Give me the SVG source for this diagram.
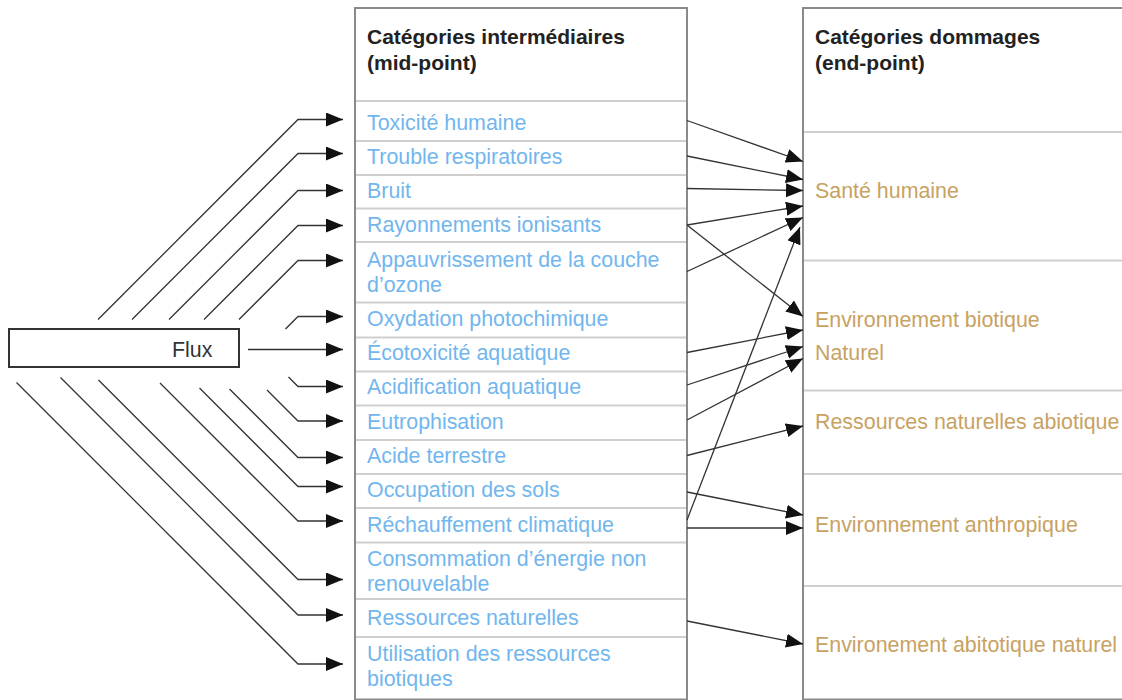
<svg xmlns="http://www.w3.org/2000/svg" width="1122" height="700" viewBox="0 0 1122 700">
<style>
text{font-family:"Liberation Sans",Arial,Helvetica,sans-serif;font-size:21.4px}
.h{font-weight:bold;fill:#222;font-size:21px}
.mid{fill:#72B6EE}
.end{fill:#C8A262}
.box{fill:#fff;stroke:#8a8a8a;stroke-width:2}
.sep{stroke:#cfcfcf;stroke-width:2;fill:none}
.c{fill:none;stroke:#333;stroke-width:1.3;marker-end:url(#ah)}
.flux{fill:#fff;stroke:#333;stroke-width:2}
</style>
<defs>
<marker id="ah" markerUnits="userSpaceOnUse" markerWidth="18" markerHeight="15" refX="17" refY="7" orient="auto">
<path d="M0,0 L17,7 L0,14 z" fill="#111"/>
</marker>
</defs>
<rect width="1122" height="700" fill="#fff"/>

<g id="mid-column">
<rect class="box" x="355" y="8" width="332" height="691.5"/>
<path class="sep" d="M356,101H686M356,141H686M356,175H686M356,208.5H686M356,242H686M356,302.5H686M356,337.5H686M356,371.5H686M356,405.5H686M356,440H686M356,474H686M356,508H686M356,542.5H686M356,599H686M356,637H686"/>
<text class="h" x="367" y="44">Catégories intermédiaires</text>
<text class="h" x="367" y="70">(mid-point)</text>
</g>
<g id="n-toxicite"><text class="mid" x="367" y="130">Toxicité humaine</text></g>
<g id="n-trouble"><text class="mid" x="367" y="164">Trouble respiratoires</text></g>
<g id="n-bruit"><text class="mid" x="367" y="198">Bruit</text></g>
<g id="n-rayonnements"><text class="mid" x="367" y="232">Rayonnements ionisants</text></g>
<g id="n-appauvrissement"><text class="mid" x="367" y="267">Appauvrissement de la couche</text><text class="mid" x="367" y="292">d’ozone</text></g>
<g id="n-oxydation"><text class="mid" x="367" y="326">Oxydation photochimique</text></g>
<g id="n-ecotoxicite"><text class="mid" x="367" y="360">Écotoxicité aquatique</text></g>
<g id="n-acidification"><text class="mid" x="367" y="394">Acidification aquatique</text></g>
<g id="n-eutrophisation"><text class="mid" x="367" y="429">Eutrophisation</text></g>
<g id="n-acide"><text class="mid" x="367" y="463">Acide terrestre</text></g>
<g id="n-occupation"><text class="mid" x="367" y="497">Occupation des sols</text></g>
<g id="n-rechauffement"><text class="mid" x="367" y="532">Réchauffement climatique</text></g>
<g id="n-consommation"><text class="mid" x="367" y="566">Consommation d’énergie non</text><text class="mid" x="367" y="591">renouvelable</text></g>
<g id="n-ressources"><text class="mid" x="367" y="625">Ressources naturelles</text></g>
<g id="n-utilisation"><text class="mid" x="367" y="661">Utilisation des ressources</text><text class="mid" x="367" y="686">biotiques</text></g>

<g id="end-column">
<rect class="box" x="803" y="8" width="330" height="691.5"/>
<path class="sep" d="M804,132H1122M804,260.5H1122M804,390.5H1122M804,474H1122M804,586H1122"/>
<text class="h" x="815" y="44">Catégories dommages</text>
<text class="h" x="815" y="70">(end-point)</text>
</g>
<g id="e-sante"><text class="end" x="815" y="198">Santé humaine</text></g>
<g id="e-biotique"><text class="end" x="815" y="327">Environnement biotique</text><text class="end" x="815" y="360">Naturel</text></g>
<g id="e-abiotique"><text class="end" x="815" y="429">Ressources naturelles abiotique</text></g>
<g id="e-anthropique"><text class="end" x="815" y="532">Environnement anthropique</text></g>
<g id="e-abitotique"><text class="end" x="815" y="652">Environement abitotique naturel</text></g>

<g id="flux">
<rect class="flux" x="9" y="329" width="230" height="38"/>
<text x="172" y="357" fill="#333">Flux</text>
</g>

<g id="connectors">
<path class="c" d="M98,319.5L298,119.5H343"/>
<path class="c" d="M132,319.5L298,153.5H343"/>
<path class="c" d="M169,319.5L298,190.5H343"/>
<path class="c" d="M204,319.5L298,225.5H343"/>
<path class="c" d="M239,319.5L298,260.5H343"/>
<path class="c" d="M285.5,329L298,316.5H343"/>
<path class="c" d="M248,349.5H343"/>
<path class="c" d="M288.5,377L298,386.5H343"/>
<path class="c" d="M267,390L298,421H343"/>
<path class="c" d="M229.5,389L298,457.5H343"/>
<path class="c" d="M199.5,388L298,486.5H343"/>
<path class="c" d="M160,383L298,521H343"/>
<path class="c" d="M98.5,380L298,579.5H343"/>
<path class="c" d="M60.5,377.5L298,615H343"/>
<path class="c" d="M16.5,382.5L298,664H343"/>

<path class="c" d="M687,120.5L803,161.5"/>
<path class="c" d="M687,156L803,179.5"/>
<path class="c" d="M687,188.5L803,190.5"/>
<path class="c" d="M687,225L803,206"/>
<path class="c" d="M687,271.5L803,217.5"/>
<path class="c" d="M687,225L803,316.5"/>
<path class="c" d="M687,520L800,227"/>
<path class="c" d="M687,352.5L803,330"/>
<path class="c" d="M687,385L803,346.5"/>
<path class="c" d="M687,420L803,358.5"/>
<path class="c" d="M687,455.5L803,426"/>
<path class="c" d="M687,492L803,515"/>
<path class="c" d="M687,528H803"/>
<path class="c" d="M687,621L803,644"/>
</g>
</svg>
